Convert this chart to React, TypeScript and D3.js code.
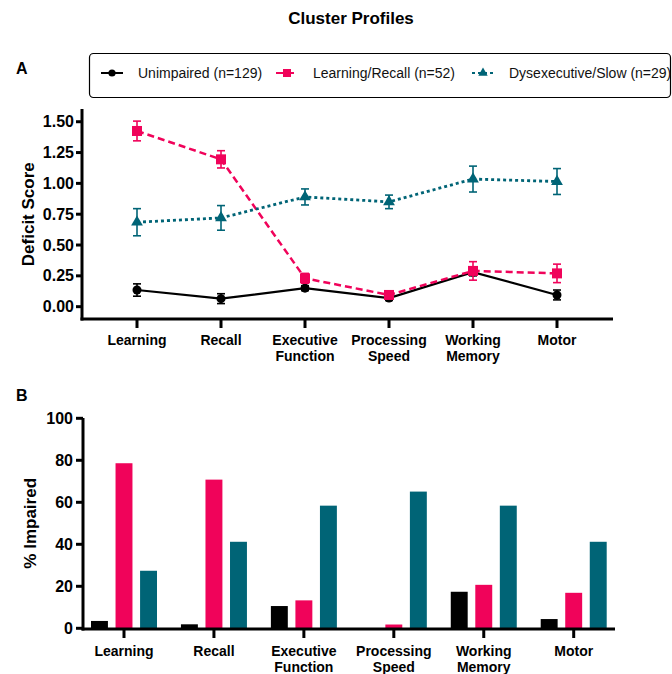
import { useEffect, useRef } from 'react';
import * as d3 from 'd3';

const domains = ['Learning', 'Recall', 'Executive\nFunction', 'Processing\nSpeed', 'Working\nMemory', 'Motor'];
const seriesNames = ['Unimpaired (n=129)', 'Learning/Recall (n=52)', 'Dysexecutive/Slow (n=29)'];
const colors = ['#000000', '#f0035a', '#006476'];

// panel A: mean deficit score and error (half bar)
const unimpairedMean = [0.135, 0.065, 0.15, 0.07, 0.28, 0.095];
const unimpairedErr = [0.05, 0.04, 0.02, 0.02, 0.03, 0.04];
const learnRecallMean = [1.425, 1.195, 0.23, 0.095, 0.29, 0.27];
const learnRecallErr = [0.08, 0.07, 0.04, 0.02, 0.075, 0.075];
const dysexecMean = [0.685, 0.72, 0.89, 0.85, 1.035, 1.015];
const dysexecErr = [0.11, 0.1, 0.065, 0.055, 0.105, 0.105];

// panel B: % impaired
const unimpairedPct = [3.5, 1.9, 10.6, 0, 17.4, 4.4];
const learnRecallPct = [78.6, 70.8, 13.3, 1.8, 20.7, 16.9];
const dysexecPct = [27.4, 41.2, 58.4, 65.1, 58.4, 41.2];

const deficitTicks = [0, 0.25, 0.5, 0.75, 1.0, 1.25, 1.5];
const pctTicks = [0, 20, 40, 60, 80, 100];

const FONT = '"Liberation Sans", Arial, sans-serif';

export default function App() {
  const svgRef = useRef<SVGSVGElement>(null);

  useEffect(() => {
    if (!svgRef.current) return;
    const svg = d3.select(svgRef.current);
    svg.selectAll('*').remove();
    svg.attr('font-family', FONT);

    svg.append('text')
      .attr('x', 351).attr('y', 24)
      .attr('text-anchor', 'middle')
      .attr('font-size', '17px').attr('font-weight', 'bold')
      .text('Cluster Profiles');

    svg.append('text').attr('x', 16).attr('y', 74)
      .attr('font-size', '16px').attr('font-weight', 'bold').text('A');
    svg.append('text').attr('x', 16).attr('y', 401)
      .attr('font-size', '16px').attr('font-weight', 'bold').text('B');

    // legend
    svg.append('rect')
      .attr('x', 89.5).attr('y', 53.5).attr('width', 581).attr('height', 44)
      .attr('rx', 4).attr('fill', 'white').attr('stroke', '#000').attr('stroke-width', 1.2);
    const legendX = [101, 276, 472];
    const dashes = [null, '7,4', '3,3'];
    const lg = svg.append('g');
    seriesNames.forEach((name, i) => {
      const x0 = legendX[i];
      const y0 = 73;
      lg.append('line')
        .attr('x1', x0).attr('x2', x0 + 22).attr('y1', y0).attr('y2', y0)
        .attr('stroke', colors[i]).attr('stroke-width', 2)
        .attr('stroke-dasharray', dashes[i]);
      drawMarker(lg, i, x0 + 11, y0, 0.8);
      lg.append('text')
        .attr('x', x0 + 37).attr('y', y0 + 5)
        .attr('font-size', '14px').attr('fill', '#111')
        .text(name);
    });

    // ---------- panel A ----------
    const xA = d3.scalePoint<string>().domain(domains).range([137, 557]);
    const yA = d3.scaleLinear().domain([-0.1, 1.6]).range([319, 109.4]);

    const gA = svg.append('g');
    gA.append('line').attr('x1', 82).attr('x2', 82).attr('y1', 109).attr('y2', 320.5)
      .attr('stroke', '#000').attr('stroke-width', 3);
    gA.append('line').attr('x1', 80.5).attr('x2', 613).attr('y1', 319).attr('y2', 319)
      .attr('stroke', '#000').attr('stroke-width', 3);
    deficitTicks.forEach(t => {
      gA.append('line').attr('x1', 76).attr('x2', 82).attr('y1', yA(t)).attr('y2', yA(t))
        .attr('stroke', '#000').attr('stroke-width', 3);
      gA.append('text')
        .attr('x', 74).attr('y', yA(t) + 5.5)
        .attr('text-anchor', 'end').attr('font-size', '16px').attr('font-weight', 'bold')
        .text(t.toFixed(2));
    });
    domains.forEach(d => {
      const x = xA(d)!;
      gA.append('line').attr('x1', x).attr('x2', x).attr('y1', 319).attr('y2', 328)
        .attr('stroke', '#000').attr('stroke-width', 3);
      const t = gA.append('text').attr('text-anchor', 'middle')
        .attr('font-size', '14px').attr('font-weight', 'bold');
      d.split('\n').forEach((part, k) => {
        t.append('tspan').attr('x', x).attr('y', 345 + k * 16).text(part);
      });
    });
    gA.append('text')
      .attr('transform', `translate(34, ${yA(0.75)}) rotate(-90)`)
      .attr('text-anchor', 'middle').attr('font-size', '17px').attr('font-weight', 'bold')
      .text('Deficit Score');

    const means = [unimpairedMean, learnRecallMean, dysexecMean];
    const errs = [unimpairedErr, learnRecallErr, dysexecErr];
    const widths = [2.2, 2.5, 2.8];
    means.forEach((m, i) => {
      const pts = m.map((v, j) => ({ x: xA(domains[j])!, v, e: errs[i][j] }));
      const line = d3.line<{ x: number; v: number }>().x(p => p.x).y(p => yA(p.v));
      gA.append('path').datum(pts)
        .attr('fill', 'none').attr('stroke', colors[i]).attr('stroke-width', widths[i])
        .attr('stroke-dasharray', dashes[i]).attr('d', line);
      pts.forEach(p => {
        const eb = gA.append('g').attr('stroke', colors[i]).attr('stroke-width', 1.6);
        eb.append('line').attr('x1', p.x).attr('x2', p.x).attr('y1', yA(p.v - p.e)).attr('y2', yA(p.v + p.e));
        eb.append('line').attr('x1', p.x - 4).attr('x2', p.x + 4).attr('y1', yA(p.v - p.e)).attr('y2', yA(p.v - p.e));
        eb.append('line').attr('x1', p.x - 4).attr('x2', p.x + 4).attr('y1', yA(p.v + p.e)).attr('y2', yA(p.v + p.e));
        drawMarker(gA, i, p.x, yA(p.v), 1);
      });
    });

    // ---------- panel B ----------
    const xB = d3.scalePoint<string>().domain(domains).range([124, 573.7]);
    const inner = d3.scaleBand<number>().domain([0, 1, 2]).range([-33, 33]).paddingInner(0.31);
    const yB = d3.scaleLinear().domain([0, 100]).range([628.3, 418.3]);
    const pcts = [unimpairedPct, learnRecallPct, dysexecPct];

    const gB = svg.append('g');
    pcts.forEach((vals, i) => {
      gB.selectAll(null).data(vals).enter().append('rect')
        .attr('x', (_, j) => xB(domains[j])! + inner(i)!)
        .attr('width', inner.bandwidth())
        .attr('y', v => yB(v))
        .attr('height', v => yB(0) - yB(v))
        .attr('fill', colors[i]);
    });
    gB.append('line').attr('x1', 83).attr('x2', 83).attr('y1', 418).attr('y2', 630.5)
      .attr('stroke', '#000').attr('stroke-width', 3);
    gB.append('line').attr('x1', 81.5).attr('x2', 615).attr('y1', 629).attr('y2', 629)
      .attr('stroke', '#000').attr('stroke-width', 3);
    pctTicks.forEach(t => {
      gB.append('line').attr('x1', 76).attr('x2', 83).attr('y1', yB(t)).attr('y2', yB(t))
        .attr('stroke', '#000').attr('stroke-width', 3);
      gB.append('text')
        .attr('x', 73).attr('y', yB(t) + 6)
        .attr('text-anchor', 'end').attr('font-size', '16px').attr('font-weight', 'bold')
        .text(String(t));
    });
    domains.forEach(d => {
      const x = xB(d)!;
      gB.append('line').attr('x1', x).attr('x2', x).attr('y1', 629).attr('y2', 638)
        .attr('stroke', '#000').attr('stroke-width', 3);
      const t = gB.append('text').attr('text-anchor', 'middle')
        .attr('font-size', '14px').attr('font-weight', 'bold');
      d.split('\n').forEach((part, k) => {
        t.append('tspan').attr('x', x).attr('y', 656 + k * 16).text(part);
      });
    });
    gB.append('text')
      .attr('transform', `translate(36, ${yB(50)}) rotate(-90)`)
      .attr('text-anchor', 'middle').attr('font-size', '17px').attr('font-weight', 'bold')
      .text('% Impaired');
  }, []);

  return (
    <svg ref={svgRef} width={672} height={674}
      style={{ display: 'block', position: 'absolute', left: 0, top: 0 }} />
  );
}

function drawMarker(g: d3.Selection<SVGGElement, unknown, null, undefined>, i: number, x: number, y: number, s: number) {
  if (i === 0) {
    g.append('circle').attr('cx', x).attr('cy', y).attr('r', 4.5 * s).attr('fill', '#000');
  } else if (i === 1) {
    const h = 5 * s;
    g.append('rect').attr('x', x - h).attr('y', y - h).attr('width', 2 * h).attr('height', 2 * h)
      .attr('fill', '#f0035a');
  } else {
    const sym = d3.symbol().type(d3.symbolTriangle).size(60 * s * s);
    g.append('path').attr('transform', `translate(${x},${y})`).attr('d', sym()!)
      .attr('fill', '#006476');
  }
}
